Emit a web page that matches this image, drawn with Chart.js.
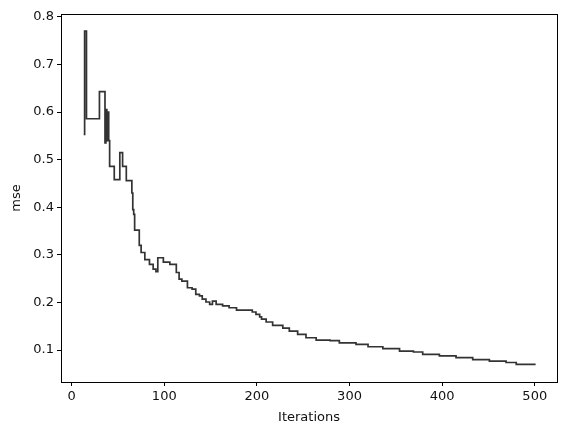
<!DOCTYPE html>
<html>
<head>
<meta charset="utf-8">
<script src="https://cdn.jsdelivr.net/npm/chart.js@4/dist/chart.umd.min.js"></script>
<style>
  html, body { margin: 0; padding: 0; background: #fff; }
  #wrap { width: 567px; height: 436px; }
</style>
</head>
<body>
<div id="wrap"><canvas id="mseChart" width="567" height="436"></canvas></div>
<script>
// iteration at which each new mse level starts
const iterations = [13, 14, 16, 30, 36, 37, 38, 39, 40, 41, 46, 52, 55, 59, 65, 66, 67, 68,
  73, 75, 79, 84, 88, 91, 93, 99, 106, 113, 116, 119, 125, 130, 134, 138, 141, 145,
  149, 152, 156, 163, 170, 178, 195, 199, 203, 205, 210, 217, 228, 235, 244, 253,
  264, 279, 289, 307, 320, 336, 354, 369, 379, 397, 415, 433, 451, 469, 480, 500];
const mseValues = [0.553, 0.77, 0.586, 0.643, 0.535, 0.605, 0.54, 0.6, 0.54, 0.486,
  0.458, 0.515, 0.486, 0.456, 0.43, 0.395, 0.385, 0.352,
  0.32, 0.305, 0.29, 0.28, 0.27, 0.265, 0.294, 0.285, 0.28, 0.263, 0.249, 0.245,
  0.231, 0.228, 0.217, 0.214, 0.207, 0.201, 0.196, 0.203, 0.196, 0.193, 0.189,
  0.184, 0.18, 0.175, 0.17, 0.165, 0.159, 0.152, 0.146, 0.14, 0.133, 0.126,
  0.121, 0.12, 0.115, 0.112, 0.107, 0.103, 0.098, 0.096, 0.091, 0.088, 0.084,
  0.08, 0.077, 0.074, 0.07, 0.068];

const xTicks = [0, 100, 200, 300, 400, 500];
const yTicks = [0.1, 0.2, 0.3, 0.4, 0.5, 0.6, 0.7, 0.8];

const points = iterations.map((it, i) => ({ x: it, y: mseValues[i] }));

const font = { family: 'DejaVu Sans', size: 13 };

// draw the full box around the plot, like matplotlib spines
const boxPlugin = {
  id: 'box',
  afterDraw(chart) {
    const a = chart.chartArea;
    const c = chart.ctx;
    c.save();
    c.strokeStyle = '#000';
    c.lineWidth = 1;
    c.strokeRect(Math.round(a.left) + 0.5, Math.round(a.top) + 0.5,
      Math.round(a.right - a.left), Math.round(a.bottom - a.top));
    c.restore();
  }
};

const ctx = document.getElementById('mseChart').getContext('2d');
const mseChart = new Chart(ctx, {
  type: 'line',
  data: {
    datasets: [{
      label: 'mse',
      data: points,
      borderColor: '#333333',
      borderWidth: 1.7,
      pointRadius: 0,
      stepped: 'before',
      fill: false
    }]
  },
  options: {
    responsive: false,
    animation: false,
    layout: { padding: { top: 14, right: 10, left: 0, bottom: 0 } },
    plugins: { legend: { display: false }, tooltip: { enabled: false } },
    scales: {
      x: {
        type: 'linear',
        min: -11.5,
        max: 524,
        afterBuildTicks: s => { s.ticks = xTicks.map(v => ({ value: v })); },
        afterFit: s => { s.height = 54; },
        grid: { display: true, drawOnChartArea: false, tickLength: 4, tickColor: '#000' },
        border: { color: '#000' },
        ticks: { color: '#111', font: font, padding: 3, maxRotation: 0,
          callback: v => String(v) },
        title: { display: true, text: 'Iterations', color: '#111', font: font,
          padding: { top: 2, bottom: 11 } }
      },
      y: {
        min: 0.033,
        max: 0.806,
        afterBuildTicks: s => { s.ticks = yTicks.map(v => ({ value: v })); },
        afterFit: s => { s.width = 61; },
        grid: { display: true, drawOnChartArea: false, tickLength: 4, tickColor: '#000' },
        border: { color: '#000' },
        ticks: { color: '#111', font: font, padding: 3,
          callback: v => v.toFixed(1) },
        title: { display: true, text: 'mse', color: '#111', font: font,
          padding: { top: 9, bottom: 4 } }
      }
    }
  },
  plugins: [boxPlugin]
});
</script>
</body>
</html>
